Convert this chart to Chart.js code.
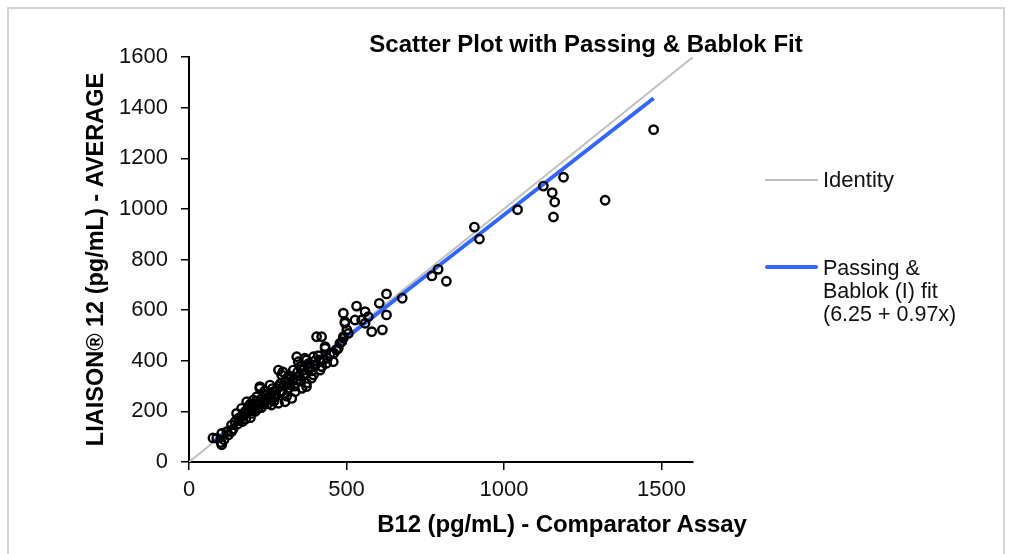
<!DOCTYPE html>
<html>
<head>
<meta charset="utf-8">
<script src="https://cdn.jsdelivr.net/npm/chart.js@4.4.0/dist/chart.umd.min.js"></script>
<style>
  body { margin: 0; background: #fff; font-family: "Liberation Sans", Arial, sans-serif; }
  #wrap { position: relative; width: 1010px; height: 554px; overflow: hidden; }
  #frame { position: absolute; left: 7px; top: 7px; width: 994px; height: 600px; border: 2px solid #d4d4d4; }
  canvas { position: absolute; left: 0; top: 0; }
  .txt { position: absolute; white-space: nowrap; color: #000; }
  .key { position: absolute; }
</style>
</head>
<body>
<div id="wrap">
  <div id="frame"></div>
  <canvas id="plot" width="1010" height="554"></canvas>
  <div class="txt" style="left:586px; top:30px; transform:translateX(-50%); font-weight:bold; font-size:24px;">Scatter Plot with Passing &amp; Bablok Fit</div>
  <div class="txt" style="left:562px; top:510px; transform:translateX(-50%); font-weight:bold; font-size:24px; letter-spacing:-0.1px;">B12 (pg/mL) - Comparator Assay</div>
  <div class="key" style="left:765px; top:179px; width:53px; height:2px; background:#bfbfbf;"></div>
  <div class="txt" style="left:823px; top:167px; font-size:22px; color:#111;">Identity</div>
  <div class="key" style="left:765px; top:265px; width:53px; height:4px; background:#3366ff; border-radius:2px;"></div>
  <div class="txt" style="left:823px; top:257px; font-size:21.5px; line-height:23px; color:#111;">Passing &amp;<br>Bablok (I) fit<br>(6.25 + 0.97x)</div>
</div>
<script>
// comparator assay (x) and LIAISON average (y)
const xValues = [76, 88, 102, 111, 104, 125, 135, 104, 120, 135, 146, 157, 151, 167, 178, 167, 188, 199, 183, 204,
  215, 225, 220, 199, 225, 257, 284, 294, 268, 241, 315, 331, 347, 363, 373, 358, 373, 389, 384, 284,
  305, 326, 262, 220, 337, 405, 421, 495, 506, 432, 448, 458, 342, 368, 395, 416, 384, 352, 331, 363,
  395, 416, 437, 479, 490, 468, 342, 373, 321, 627, 677, 604, 627, 614, 580, 532, 559, 569, 548, 559,
  490, 495, 527, 501, 490, 485, 474, 432, 426, 421, 771, 791, 817, 906, 922, 1043, 1125, 1153, 1161, 1157,
  1189, 1321, 1475, 140, 160, 175, 190, 210, 230, 245, 250, 270, 280, 300, 310, 320, 300, 290, 260,
  235, 200, 180, 155, 350, 400, 410, 440, 460, 170, 185, 195, 210, 215, 230, 240, 250, 255, 265,
  275, 285, 295, 305, 315, 325, 335, 345, 355, 360, 370, 380, 390, 400, 310, 270, 240, 195, 298];
const yValues = [95, 94, 77, 88, 68, 107, 120, 113, 120, 146, 159, 173, 192, 179, 199, 212, 219, 205, 238, 245,
  258, 291, 225, 192, 298, 304, 363, 344, 278, 265, 311, 324, 396, 363, 403, 291, 298, 331, 370, 232,
  238, 251, 225, 212, 278, 495, 495, 548, 508, 449, 429, 396, 416, 410, 416, 403, 377, 377, 363, 344,
  344, 363, 390, 469, 495, 443, 324, 311, 304, 664, 647, 627, 581, 522, 515, 616, 594, 574, 561, 548,
  588, 554, 561, 522, 489, 475, 449, 456, 403, 377, 735, 761, 714, 928, 881, 997, 1090, 1064, 1027, 968,
  1125, 1034, 1313, 130, 165, 185, 200, 230, 250, 240, 270, 255, 290, 300, 330, 340, 270, 310, 245,
  230, 220, 170, 150, 340, 380, 420, 410, 430, 160, 205, 175, 200, 240, 215, 245, 230, 260, 290,
  265, 300, 280, 320, 290, 335, 300, 355, 320, 380, 350, 390, 360, 400, 260, 240, 280, 230, 356];

// fit line from the legend: 6.25 + 0.97x, across the data range
const fitIntercept = 6.25;
const fitSlope = 0.97;
const fitRange = [75, 1475];
const identityRange = [0, 1600];

const xTicks = [0, 500, 1000, 1500];
const yTicks = [0, 200, 400, 600, 800, 1000, 1200, 1400, 1600];

const points = xValues.map((x, i) => ({ x: x, y: yValues[i] }));
const fitLine = fitRange.map(x => ({ x: x, y: fitIntercept + fitSlope * x }));
const identityLine = identityRange.map(v => ({ x: v, y: v }));

const tickFont = { family: '"Liberation Sans", Arial, sans-serif', size: 22 };
const plain = v => String(v);

new Chart(document.getElementById('plot'), {
  type: 'scatter',
  data: {
    datasets: [
      {
        label: 'Data',
        data: points,
        pointStyle: 'circle',
        pointRadius: 4.2,
        borderColor: '#000',
        borderWidth: 2.4,
        backgroundColor: 'rgba(0,0,0,0)',
        order: 1
      },
      {
        label: 'Passing & Bablok (I) fit',
        type: 'line',
        data: fitLine,
        borderColor: '#3366ff',
        borderWidth: 4,
        pointRadius: 0,
        order: 2
      },
      {
        label: 'Identity',
        type: 'line',
        data: identityLine,
        borderColor: '#c0c0c0',
        borderWidth: 2,
        pointRadius: 0,
        order: 3
      }
    ]
  },
  options: {
    responsive: false,
    animation: false,
    layout: { padding: { left: 0, top: 57, right: 317, bottom: 0 } },
    plugins: { legend: { display: false }, tooltip: { enabled: false } },
    scales: {
      x: {
        type: 'linear',
        min: 0,
        max: 1600,
        afterFit: s => { s.height = 92; },
        afterBuildTicks: s => { s.ticks = xTicks.map(v => ({ value: v })); },
        border: { color: '#000', width: 2 },
        grid: { drawOnChartArea: false, tickLength: 8, color: '#000', lineWidth: 1.5 },
        ticks: { font: tickFont, color: '#111', padding: 7, maxRotation: 0, callback: plain }
      },
      y: {
        type: 'linear',
        min: 0,
        max: 1600,
        afterFit: s => { s.width = 189; },
        afterBuildTicks: s => { s.ticks = yTicks.map(v => ({ value: v })); },
        border: { color: '#000', width: 2 },
        grid: { drawOnChartArea: false, tickLength: 8, color: '#000', lineWidth: 1.5 },
        ticks: { font: tickFont, color: '#111', padding: 13, callback: plain },
        title: {
          display: true,
          text: 'LIAISON® 12 (pg/mL) - AVERAGE',
          color: '#000',
          font: { family: '"Liberation Sans", Arial, sans-serif', size: 23.5, weight: 'bold' },
          padding: { top: 82, bottom: 0 }
        }
      }
    }
  }
});
</script>
</body>
</html>
